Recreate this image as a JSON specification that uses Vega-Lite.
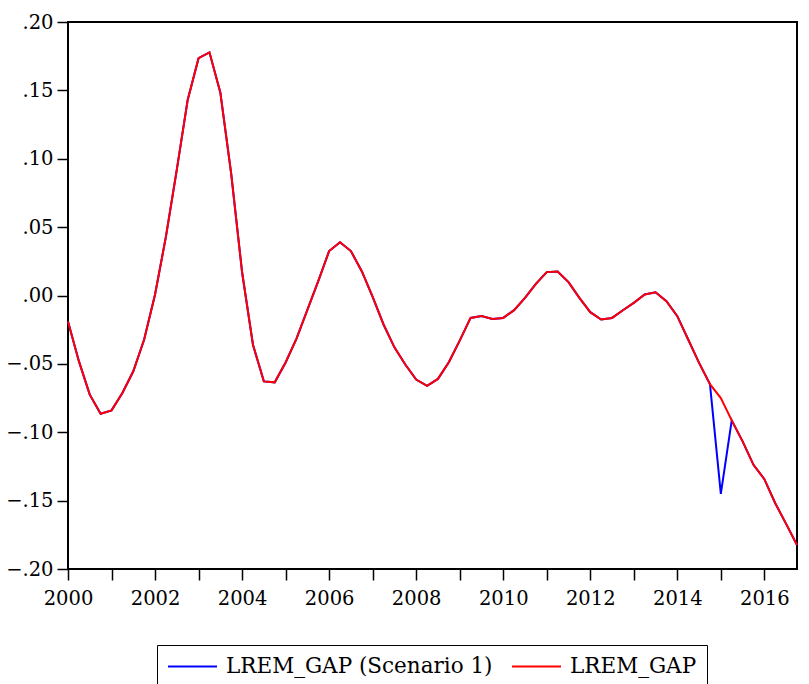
{
  "$schema": "https://vega.github.io/schema/vega-lite/v6.json",
  "width": 729,
  "height": 547,
  "autosize": {"type": "none"},
  "padding": {"left": 68, "top": 22, "right": 12, "bottom": 115},
  "background": "white",
  "config": {
    "view": {"stroke": "black", "strokeWidth": 2},
    "font": "DejaVu Serif"
  },
  "data": {
    "values": [
      {"t": 2000.00, "scen": -0.0190, "base": -0.0190},
      {"t": 2000.25, "scen": -0.0480, "base": -0.0480},
      {"t": 2000.50, "scen": -0.0725, "base": -0.0725},
      {"t": 2000.75, "scen": -0.0865, "base": -0.0865},
      {"t": 2001.00, "scen": -0.0840, "base": -0.0840},
      {"t": 2001.25, "scen": -0.0713, "base": -0.0713},
      {"t": 2001.50, "scen": -0.0554, "base": -0.0554},
      {"t": 2001.75, "scen": -0.0322, "base": -0.0322},
      {"t": 2002.00, "scen": 0.0007, "base": 0.0007},
      {"t": 2002.25, "scen": 0.0430, "base": 0.0430},
      {"t": 2002.50, "scen": 0.0920, "base": 0.0920},
      {"t": 2002.75, "scen": 0.1430, "base": 0.1430},
      {"t": 2003.00, "scen": 0.1735, "base": 0.1735},
      {"t": 2003.25, "scen": 0.1778, "base": 0.1778},
      {"t": 2003.50, "scen": 0.1485, "base": 0.1485},
      {"t": 2003.75, "scen": 0.0890, "base": 0.0890},
      {"t": 2004.00, "scen": 0.0170, "base": 0.0170},
      {"t": 2004.25, "scen": -0.0360, "base": -0.0360},
      {"t": 2004.50, "scen": -0.0628, "base": -0.0628},
      {"t": 2004.75, "scen": -0.0635, "base": -0.0635},
      {"t": 2005.00, "scen": -0.0490, "base": -0.0490},
      {"t": 2005.25, "scen": -0.0315, "base": -0.0315},
      {"t": 2005.50, "scen": -0.0105, "base": -0.0105},
      {"t": 2005.75, "scen": 0.0105, "base": 0.0105},
      {"t": 2006.00, "scen": 0.0325, "base": 0.0325},
      {"t": 2006.25, "scen": 0.0390, "base": 0.0390},
      {"t": 2006.50, "scen": 0.0325, "base": 0.0325},
      {"t": 2006.75, "scen": 0.0178, "base": 0.0178},
      {"t": 2007.00, "scen": -0.0010, "base": -0.0010},
      {"t": 2007.25, "scen": -0.0212, "base": -0.0212},
      {"t": 2007.50, "scen": -0.0379, "base": -0.0379},
      {"t": 2007.75, "scen": -0.0505, "base": -0.0505},
      {"t": 2008.00, "scen": -0.0615, "base": -0.0615},
      {"t": 2008.25, "scen": -0.0660, "base": -0.0660},
      {"t": 2008.50, "scen": -0.0610, "base": -0.0610},
      {"t": 2008.75, "scen": -0.0488, "base": -0.0488},
      {"t": 2009.00, "scen": -0.0330, "base": -0.0330},
      {"t": 2009.25, "scen": -0.0164, "base": -0.0164},
      {"t": 2009.50, "scen": -0.0150, "base": -0.0150},
      {"t": 2009.75, "scen": -0.0171, "base": -0.0171},
      {"t": 2010.00, "scen": -0.0164, "base": -0.0164},
      {"t": 2010.25, "scen": -0.0107, "base": -0.0107},
      {"t": 2010.50, "scen": -0.0017, "base": -0.0017},
      {"t": 2010.75, "scen": 0.0085, "base": 0.0085},
      {"t": 2011.00, "scen": 0.0171, "base": 0.0171},
      {"t": 2011.25, "scen": 0.0176, "base": 0.0176},
      {"t": 2011.50, "scen": 0.0098, "base": 0.0098},
      {"t": 2011.75, "scen": -0.0017, "base": -0.0017},
      {"t": 2012.00, "scen": -0.0122, "base": -0.0122},
      {"t": 2012.25, "scen": -0.0176, "base": -0.0176},
      {"t": 2012.50, "scen": -0.0164, "base": -0.0164},
      {"t": 2012.75, "scen": -0.0108, "base": -0.0108},
      {"t": 2013.00, "scen": -0.0054, "base": -0.0054},
      {"t": 2013.25, "scen": 0.0007, "base": 0.0007},
      {"t": 2013.50, "scen": 0.0024, "base": 0.0024},
      {"t": 2013.75, "scen": -0.0042, "base": -0.0042},
      {"t": 2014.00, "scen": -0.0151, "base": -0.0151},
      {"t": 2014.25, "scen": -0.0322, "base": -0.0322},
      {"t": 2014.50, "scen": -0.0493, "base": -0.0493},
      {"t": 2014.75, "scen": -0.0648, "base": -0.0648},
      {"t": 2015.00, "scen": -0.1450, "base": -0.0750},
      {"t": 2015.25, "scen": -0.0913, "base": -0.0913},
      {"t": 2015.50, "scen": -0.1067, "base": -0.1067},
      {"t": 2015.75, "scen": -0.1238, "base": -0.1238},
      {"t": 2016.00, "scen": -0.1343, "base": -0.1343},
      {"t": 2016.25, "scen": -0.1519, "base": -0.1519},
      {"t": 2016.50, "scen": -0.1670, "base": -0.1670},
      {"t": 2016.75, "scen": -0.1824, "base": -0.1824}
    ]
  },
  "transform": [
    {"fold": ["scen", "base"], "as": ["key", "value"]},
    {"lookup": "key", "from": {"data": {"values": [
      {"key": "scen", "series": "LREM_GAP (Scenario 1)"},
      {"key": "base", "series": "LREM_GAP"}
    ]}, "key": "key", "fields": ["series"]}}
  ],
  "encoding": {
    "x": {
      "field": "t", "type": "quantitative",
      "scale": {"domain": [2000, 2016.75], "nice": false, "zero": false},
      "axis": {
        "title": null, "domain": false, "grid": false,
        "values": [2000,2001,2002,2003,2004,2005,2006,2007,2008,2009,2010,2011,2012,2013,2014,2015,2016],
        "labelExpr": "datum.value % 2 == 0 ? format(datum.value, 'd') : ''",
        "tickSize": 11, "tickColor": "black", "tickWidth": 1.5,
        "labelFont": "DejaVu Serif", "labelFontSize": 19.5, "labelColor": "black",
        "labelPadding": 9, "labelFlush": false, "labelOverlap": false, "labelBound": false
      }
    },
    "y": {
      "field": "value", "type": "quantitative",
      "scale": {"domain": [-0.2, 0.2], "nice": false, "zero": false},
      "axis": {
        "title": null, "domain": false, "grid": false,
        "values": [-0.2, -0.15, -0.1, -0.05, 0, 0.05, 0.1, 0.15, 0.2],
        "labelExpr": "replace(format(datum.value, '.2f'), '0.', '.')",
        "tickSize": 11, "tickColor": "black", "tickWidth": 1.5,
        "labelFont": "DejaVu Serif", "labelFontSize": 19.5, "labelColor": "black",
        "labelPadding": 4, "labelFlush": false, "labelOverlap": false, "labelBound": false
      }
    },
    "color": {
      "field": "series", "type": "nominal",
      "scale": {"domain": ["LREM_GAP (Scenario 1)", "LREM_GAP"], "range": ["#0000FF", "#FF0000"]},
      "legend": {
        "title": null, "orient": "none", "legendX": 89, "legendY": 623,
        "direction": "horizontal",
        "strokeColor": "black", "fillColor": "white", "padding": 10,
        "symbolType": "stroke", "symbolSize": 2401, "symbolStrokeWidth": 2,
        "clipHeight": 23,
        "labelFont": "DejaVu Serif", "labelFontSize": 21.5, "labelColor": "black",
        "labelOffset": 8, "columnPadding": 18, "labelLimit": 400
      }
    }
  },
  "layer": [
    {"transform": [{"filter": "datum.key == 'scen'"}], "mark": {"type": "line", "strokeWidth": 2}},
    {"transform": [{"filter": "datum.key == 'base'"}], "mark": {"type": "line", "strokeWidth": 2}}
  ]
}
